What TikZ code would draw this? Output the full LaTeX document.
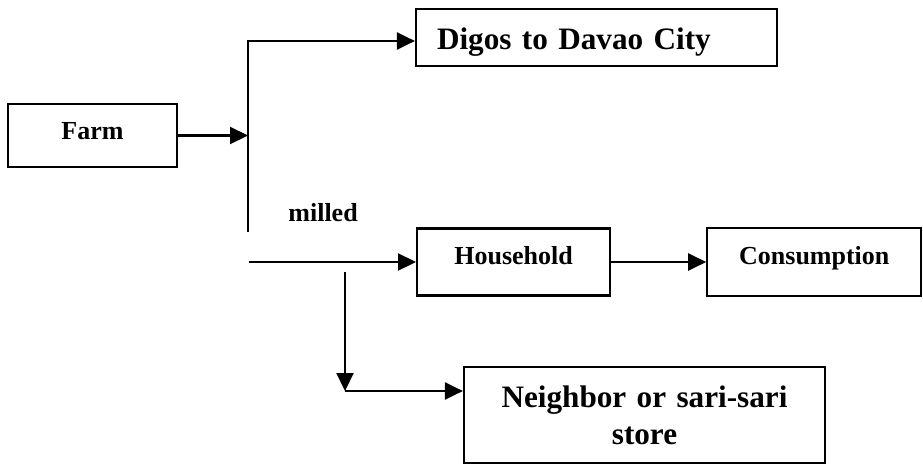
\documentclass[tikz,border=0pt]{standalone}
\usepackage{fontspec}
\setmainfont{Liberation Serif}
\usetikzlibrary{arrows.meta,positioning}
\tikzstyle{box}=[rectangle,draw,line width=1.1pt,inner sep=0pt,text centered,font=\bfseries\fontsize{13}{15}\selectfont]
\tikzstyle{bigbox}=[box,font=\bfseries\fontsize{15.6}{18.5}\selectfont]
\tikzstyle{flowtext}=[inner sep=0pt,font=\bfseries\fontsize{13}{15}\selectfont]
\tikzstyle{flow}=[-{Triangle[length=9pt,width=8.5pt]},line width=1.1pt]

\begin{document}
\begin{tikzpicture}[x=0.5pt,y=-0.5pt]
\useasboundingbox (0,0) rectangle (923,466) ;

\coordinate (top) at (248,41) ;
\coordinate (bot) at (248,232) ;
\coordinate (split) at (249,262) ;
\coordinate (drop) at (345,272) ;
\coordinate (corner) at (345,391) ;

\node (farm) [box,minimum width=84.5pt,minimum height=31.5pt,text height=9pt,text depth=4.5pt] at (92.5,135.5) {Farm} ;
\node (digos) [bigbox,minimum height=28.5pt,text width=159.5pt,inner xsep=10.5pt,align=left,text height=12pt,text depth=0pt] at (596.5,37.5) {Digos to Davao City} ;
\node (household) [box,minimum width=96.5pt,minimum height=33.5pt,text height=9pt,text depth=6.5pt,right=83.5pt of split] {Household} ;
\node (consumption) [box,minimum width=107pt,minimum height=34pt,text height=9pt,text depth=7pt,right=47.5pt of household] {Consumption} ;
\node (neighbor) [bigbox,minimum height=48pt,text width=160pt,inner xsep=10.25pt,align=center] at (644.5,415) {Neighbor or sari-sari\\store} ;
\node (milled) [flowtext,anchor=base west] at (288,221) {milled} ;

\draw [flow] (farm.east) -- (farm.east -| top) ;
\draw [flow] (bot) -- (top) -- (top -| digos.west) ;
\draw [flow] (split) -- (household.west) ;
\draw [flow] (household.east) -- (consumption.west) ;
\draw [flow] (drop) -- (corner) ;
\draw [flow] (corner) -- (corner -| neighbor.west) ;

\end{tikzpicture}
\end{document}
